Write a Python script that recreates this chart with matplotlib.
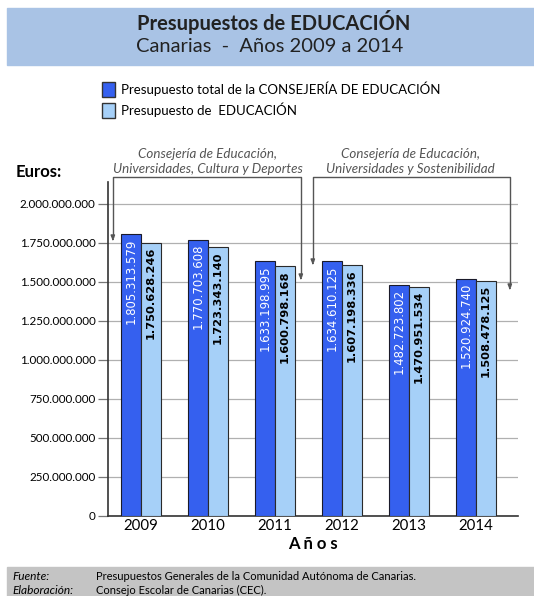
import numpy as np
import matplotlib
matplotlib.use("Agg")
import matplotlib.pyplot as plt
from matplotlib.patches import Rectangle, Patch

# data
years = ['2009', '2010', '2011', '2012', '2013', '2014']
total_consejeria = [1805313579, 1770703608, 1633198995, 1634610125, 1482723802, 1520924740]
educacion = [1750628246, 1723343140, 1600798168, 1607198336, 1470951534, 1508478125]
yticks = [0, 250e6, 500e6, 750e6, 1000e6, 1250e6, 1500e6, 1750e6, 2000e6]

dark_blue = '#3560ef'
light_blue = '#a6d0f8'
grey_line = '#555555'

def fmt(v):
    # miles con punto
    return '{:,}'.format(int(v)).replace(',', '.')

plt.rcParams['font.family'] = ['Lato', 'DejaVu Sans']

fig = plt.figure(figsize=(5.34, 5.96), dpi=100)
W, H = 534.0, 596.0

# title band
fig.patches.append(Rectangle((7 / W, 1 - 65 / H), 1, 57 / H, transform=fig.transFigure,
                             color='#a9c3e5', zorder=0))
fig.text(274 / W, 1 - 22 / H, 'Presupuestos de EDUCACIÓN', ha='center', va='center',
         fontsize=14.5, fontweight='bold', color='#222222')
fig.text(270 / W, 1 - 47 / H, 'Canarias  -  Años 2009 a 2014', ha='center', va='center',
         fontsize=14.5, color='#222222')

# footer band
fig.patches.append(Rectangle((7 / W, 0), 1, 29 / H, transform=fig.transFigure,
                             color='#c4c4c4', zorder=0))
fig.text(12 / W, 1 - 577 / H, 'Fuente:', ha='left', va='center', fontsize=8.6, style='italic')
fig.text(12 / W, 1 - 590 / H, 'Elaboración:', ha='left', va='center', fontsize=8.6, style='italic')
fig.text(96 / W, 1 - 577 / H, 'Presupuestos Generales de la Comunidad Autónoma de Canarias.',
         ha='left', va='center', fontsize=8.0)
fig.text(96 / W, 1 - 590 / H, 'Consejo Escolar de Canarias (CEC).',
         ha='left', va='center', fontsize=8.0)

ax = fig.add_axes([108 / W, 1 - 516 / H, 410 / W, 334 / H])
x = np.arange(len(years))
w = 0.3
b1 = ax.bar(x - w / 2, total_consejeria, w, color=dark_blue, edgecolor='#1a1a2a', linewidth=0.8, zorder=3)
b2 = ax.bar(x + w / 2, educacion, w, color=light_blue, edgecolor='#2a2a2a', linewidth=0.8, zorder=3)

for xi, v in zip(x, total_consejeria):
    ax.annotate(fmt(v), (xi - w / 2, v), xytext=(0, -3), textcoords='offset points',
                rotation=90, ha='center', va='top', color='white', fontsize=8.4,
                family='DejaVu Sans', zorder=4)
for xi, v in zip(x, educacion):
    ax.annotate(fmt(v), (xi + w / 2, v), xytext=(0, -3), textcoords='offset points',
                rotation=90, ha='center', va='top', color='black', fontsize=8.2,
                fontweight='bold', family='DejaVu Sans', zorder=4)

ax.set_xlim(-0.49, 5.63)
ax.set_ylim(0, 2.141e9)
ax.set_yticks(yticks)
ax.set_yticklabels([fmt(t) for t in yticks], fontsize=8.4)
ax.yaxis.grid(True, color='#b0b0b0', linewidth=0.9, zorder=0)
ax.set_xticks(x)
ax.set_xticklabels(years, fontsize=10.8)
ax.tick_params(axis='x', length=0, pad=2)
ax.tick_params(axis='y', length=7, color='#777777', width=0.9, pad=2)
for s in ['top', 'right']:
    ax.spines[s].set_visible(False)
ax.spines['left'].set_color('#333333')
ax.spines['bottom'].set_color('#333333')
ax.spines['left'].set_linewidth(1.2)
ax.spines['bottom'].set_linewidth(1.2)
ax.set_xlabel('A ñ o s', fontsize=12, fontweight='bold', labelpad=2)

fig.text(16 / W, 1 - 172 / H, 'Euros:', ha='left', va='center', fontsize=12, fontweight='bold')

# brackets for the consejeria names
def px_to_data_x(px):
    return (px - 141) / 67.0

def px_to_data_y(py):
    return (516 - py) / 39.0 * 250e6

top_y = px_to_data_y(177)
brackets = [
    (113, 241, 301, 280, 208, 'Consejería de Educación,\nUniversidades, Cultura y Deportes'),
    (313, 265, 510, 290, 411, 'Consejería de Educación,\nUniversidades y Sostenibilidad'),
]
for xl, yl, xr, yr, xc, label in brackets:
    xl_d, xr_d = px_to_data_x(xl), px_to_data_x(xr)
    ax.plot([xl_d, xl_d, xr_d, xr_d], [px_to_data_y(yl) + 25e6, top_y, top_y, px_to_data_y(yr) + 25e6],
            color=grey_line, linewidth=1.0, clip_on=False, zorder=5)
    for xd, yd in [(xl_d, yl), (xr_d, yr)]:
        ax.annotate('', xy=(xd, px_to_data_y(yd)), xytext=(xd, px_to_data_y(yd) + 30e6),
                    arrowprops=dict(arrowstyle='-|>,head_length=0.3,head_width=0.12',
                                    color=grey_line, lw=1.0), annotation_clip=False)
    ax.text(px_to_data_x(xc), px_to_data_y(161.5), label, ha='center', va='center',
            fontsize=9.6, style='italic', color='#555555', linespacing=1.3, clip_on=False)

handles = [Patch(facecolor=dark_blue, edgecolor='#333333'),
           Patch(facecolor=light_blue, edgecolor='#333333')]
fig.legend(handles, ['Presupuesto total de la CONSEJERÍA DE EDUCACIÓN', 'Presupuesto de  EDUCACIÓN'],
           loc='upper left', bbox_to_anchor=(97 / W, 1 - 76 / H), frameon=False,
           fontsize=9.5, handlelength=1.0, handleheight=1.3, handletextpad=0.4,
           labelspacing=0.45, borderaxespad=0)

fig.savefig('out.png', dpi=100)
